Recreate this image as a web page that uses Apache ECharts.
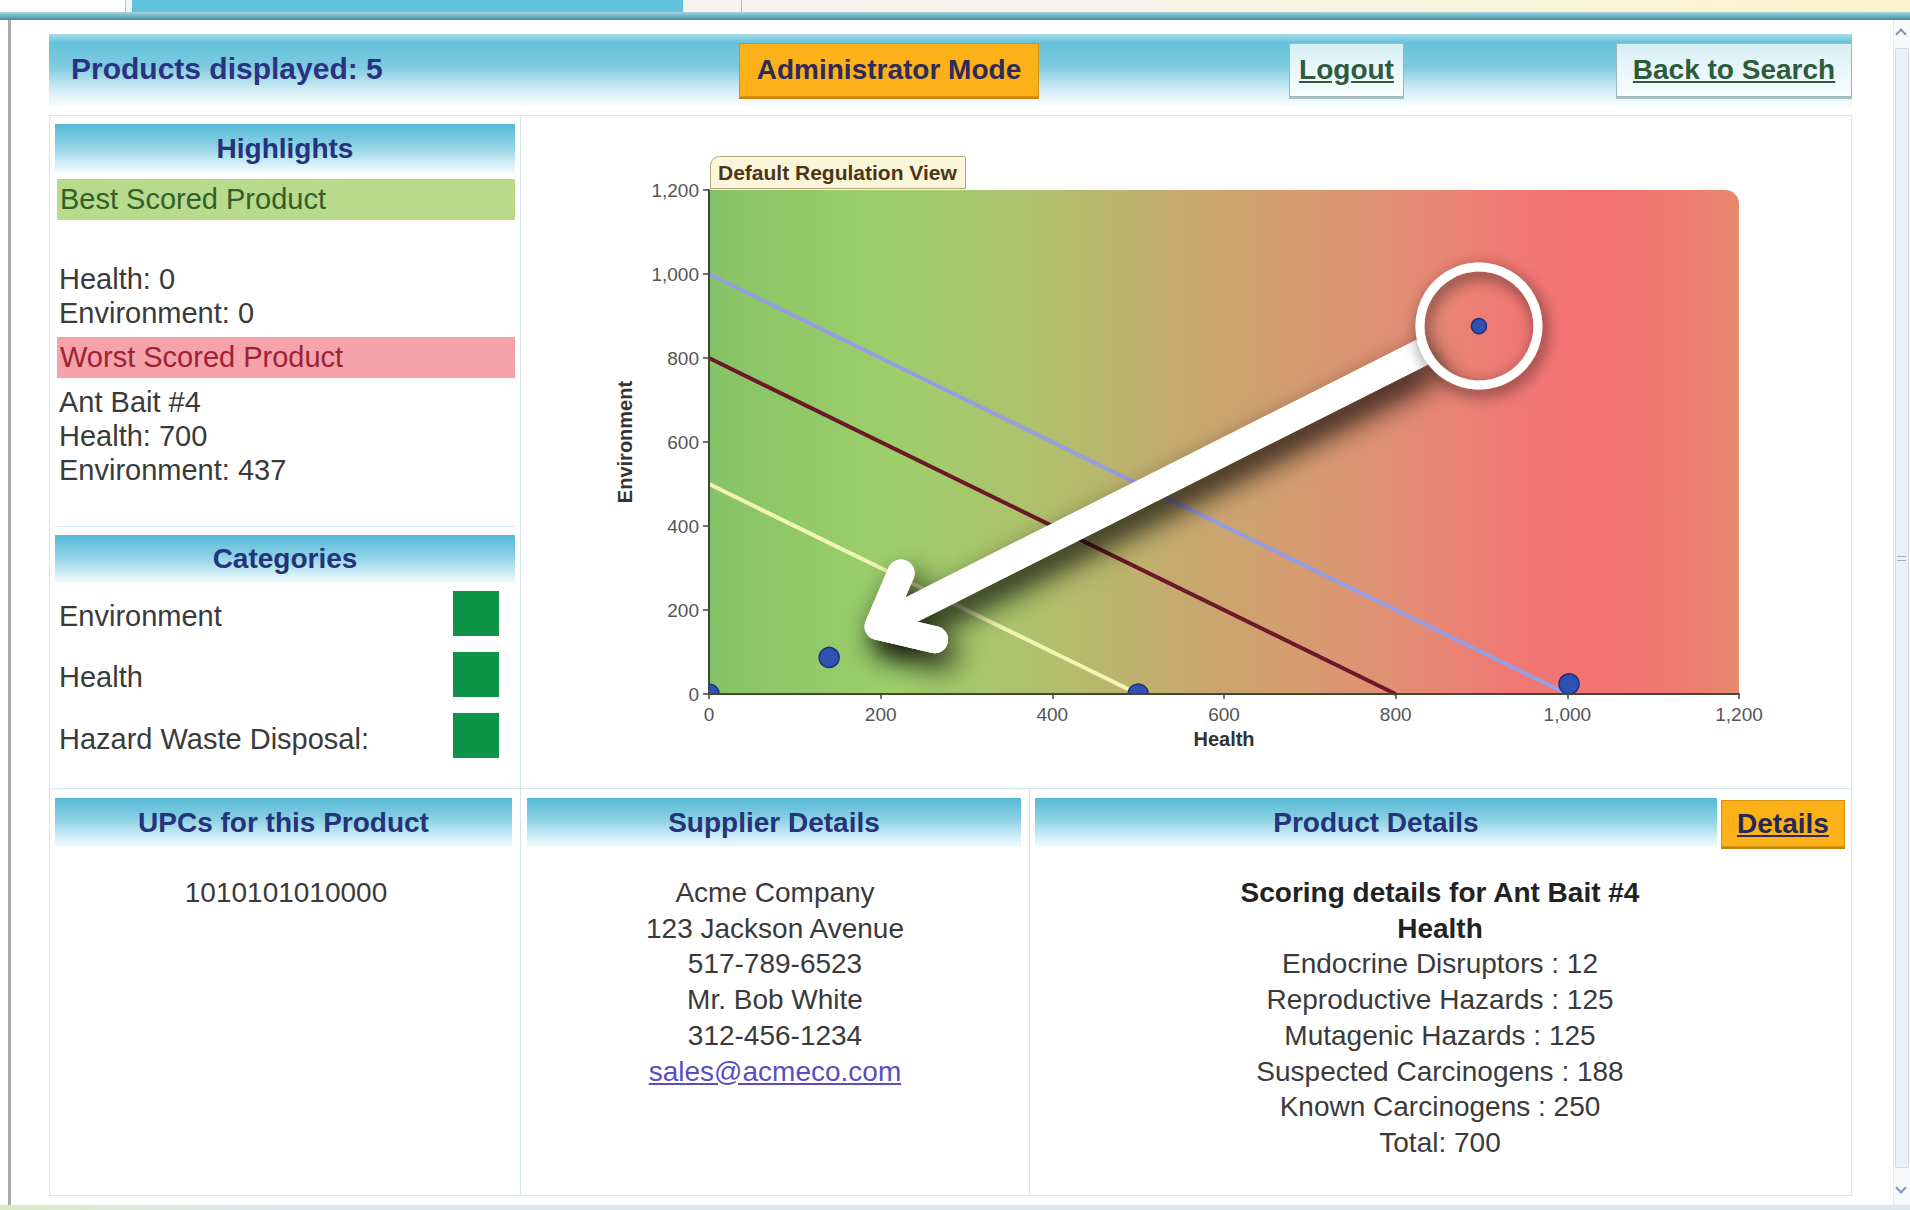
<!DOCTYPE html>
<html>
<head>
<meta charset="utf-8">
<title>Products</title>
<script src="https://cdn.jsdelivr.net/npm/echarts@6/dist/echarts.min.js"></script>
<style>
  html, body { margin: 0; padding: 0; }
  body {
    width: 1910px; height: 1210px; position: relative; overflow: hidden;
    background: #fff; font-family: 'Liberation Sans', Arial, sans-serif; color: #3a3a3a;
  }
  .abs { position: absolute; box-sizing: border-box; }
  .top-strip { left: 0; top: 0; width: 1910px; height: 13px; background: linear-gradient(90deg, #f2f4f5, #f7f5ea 60%, #fdf3cc); }
  .top-tab { left: 132px; top: 0; width: 551px; height: 13px; background: #62c4dc; }
  .top-tab0 { left: 0; top: 0; width: 126px; height: 12px; background: #fff; border-right: 1px solid #c9c9c9; }
  .top-band { left: 0; top: 12px; width: 1910px; height: 8px; background: linear-gradient(#a6d6e2, #3f8d9f); }
  .left-edge { left: 8px; top: 20px; width: 3px; height: 1185px; background: #a9a9a9; }
  .bottom-edge { left: 0; top: 1205px; width: 1910px; height: 5px; background: linear-gradient(90deg, #d9ecc9 0, #dbe7f0 16%, #dbe7f0); }
  .scroll { left: 1893px; top: 20px; width: 17px; height: 1185px; background: #f7f9fb; border-left: 1px solid #e3e9ef; }
  .scroll-thumb { left: 1895px; top: 48px; width: 14px; height: 1120px; background: #e9f0f7; border: 1px solid #cfdbe7; border-radius: 2px; }
  .chev { width: 8px; height: 8px; border-left: 2px solid #7f95b0; border-top: 2px solid #7f95b0; }

  .header { left: 49px; top: 34px; width: 1803px; height: 73px;
    background: linear-gradient(#a8dbe9 0%, #64c1da 12%, #7fcbe0 45%, #d5eef6 78%, #fbfeff 100%); }
  .hdr-text { font-weight: bold; font-size: 30px; color: #2a3380; line-height: 1; }
  .btn { display: flex; align-items: center; justify-content: center; font-weight: bold; font-size: 28px; }
  .btn-orange { background: #fbb117; border: 1px solid #d4920f; color: #2f2a5c; box-shadow: 0 2px 0 #c5860c; }
  .btn-plain { background: linear-gradient(#d6eef4, #eef8fb 60%, #f7fcfd); border: 1px solid #9db6bf; color: #2e5b3c;
    text-decoration: underline; box-shadow: 0 2px 0 #a9bfc6; }

  .frame { left: 49px; top: 115px; width: 1803px; height: 1081px; border: 1px solid #d2e5f0; }
  .vline { width: 1px; background: #d2e5f0; }
  .hline { height: 1px; background: #d2e5f0; }

  .ph { display: flex; align-items: center; justify-content: center; font-weight: bold; font-size: 28px; color: #24337a;
    background: linear-gradient(#56b9d6 0%, #86cfe3 40%, #d9f1f8 85%, #f2fbfd 100%); }
  .bar { display: flex; align-items: center; font-size: 29px; padding-left: 3px; }
  .txt { font-size: 29px; line-height: 34px; white-space: nowrap; }
  .sq { width: 46px; height: 45px; background: #0e9446; }
  .center-block { text-align: center; font-size: 28px; line-height: 35.7px; white-space: nowrap; }
  a.mail { color: #5a4dc0; text-decoration: underline; }

  #chart { left: 520px; top: 115px; width: 1332px; height: 672px; }
</style>
</head>
<body>
<div class="abs top-strip"></div>
<div class="abs top-tab0"></div>
<div class="abs top-tab"></div>
<div class="abs" style="left:741px;top:0;width:1px;height:12px;background:#b9b9b9"></div>
<div class="abs top-band"></div>
<div class="abs left-edge"></div>
<div class="abs bottom-edge"></div>
<div class="abs scroll"></div>
<div class="abs scroll-thumb"></div>
<div class="abs chev" style="left:1897px;top:30px;transform:rotate(45deg)"></div>
<div class="abs chev" style="left:1897px;top:1184px;transform:rotate(225deg)"></div>
<div class="abs" style="left:1897px;top:556px;width:9px;height:1px;background:#9fb3c8"></div>
<div class="abs" style="left:1897px;top:560px;width:9px;height:1px;background:#9fb3c8"></div>

<!-- top header -->
<div class="abs header"></div>
<div class="abs hdr-text" style="left:71px;top:54px">Products displayed: 5</div>
<div class="abs btn btn-orange" style="left:739px;top:43px;width:300px;height:54px">Administrator Mode</div>
<div class="abs btn btn-plain" style="left:1289px;top:43px;width:115px;height:54px">Logout</div>
<div class="abs btn btn-plain" style="left:1616px;top:43px;width:236px;height:54px">Back to Search</div>

<!-- frame and dividers -->
<div class="abs frame"></div>
<div class="abs vline" style="left:520px;top:115px;height:1081px"></div>
<div class="abs vline" style="left:1029px;top:788px;height:408px"></div>
<div class="abs hline" style="left:49px;top:788px;width:1803px"></div>

<!-- highlights -->
<div class="abs ph" style="left:55px;top:124px;width:460px;height:49px">Highlights</div>
<div class="abs bar" style="left:57px;top:179px;width:458px;height:41px;background:#b7da8b;color:#335f2d">Best Scored Product</div>
<div class="abs txt" style="left:59px;top:262px">Health: 0<br>Environment: 0</div>
<div class="abs bar" style="left:57px;top:337px;width:458px;height:41px;background:#f5a2aa;color:#9c2333">Worst Scored Product</div>
<div class="abs txt" style="left:59px;top:385px">Ant Bait #4<br>Health: 700<br>Environment: 437</div>
<div class="abs hline" style="left:55px;top:526px;width:460px"></div>

<!-- categories -->
<div class="abs ph" style="left:55px;top:535px;width:460px;height:48px">Categories</div>
<div class="abs txt" style="left:59px;top:599px">Environment</div>
<div class="abs sq" style="left:453px;top:591px"></div>
<div class="abs txt" style="left:59px;top:660px">Health</div>
<div class="abs sq" style="left:453px;top:652px"></div>
<div class="abs txt" style="left:59px;top:722px">Hazard Waste Disposal:</div>
<div class="abs sq" style="left:453px;top:713px"></div>

<!-- chart -->
<div class="abs" id="chart"></div>

<!-- bottom panels -->
<div class="abs ph" style="left:55px;top:798px;width:457px;height:49px">UPCs for this Product</div>
<div class="abs center-block" style="left:55px;top:875px;width:462px">1010101010000</div>

<div class="abs ph" style="left:527px;top:798px;width:494px;height:49px">Supplier Details</div>
<div class="abs center-block" style="left:527px;top:875px;width:496px">
  Acme Company<br>123 Jackson Avenue<br>517-789-6523<br>Mr. Bob White<br>312-456-1234<br><a class="mail">sales@acmeco.com</a>
</div>

<div class="abs ph" style="left:1035px;top:798px;width:682px;height:49px">Product Details</div>
<div class="abs btn btn-orange" style="left:1721px;top:800px;width:124px;height:47px;color:#272755;text-decoration:underline">Details</div>
<div class="abs center-block" style="left:1035px;top:875px;width:810px">
  <b style="color:#222">Scoring details for Ant Bait #4</b><br>
  <b style="color:#222">Health</b><br>
  Endocrine Disruptors : 12<br>
  Reproductive Hazards : 125<br>
  Mutagenic Hazards : 125<br>
  Suspected Carcinogens : 188<br>
  Known Carcinogens : 250<br>
  Total: 700
</div>

<script>
// products plotted (health score, environment score)
const healthScores = [0, 140, 500, 1002, 897]
const environmentScores = [0, 87, 0, 24, 876]
const worstIndex = 4
// regulation limits: line from (0, level) to (level, 0)
const regulationLevels = [500, 800, 1000]
const regulationColors = ['#f3f6b2', '#6b1828', '#969ee2']
// arrow from the highlighted product down to the safe zone [x1, y1, x2, y2]
const arrowFromTo = [834, 817, 197, 161]

const chart = echarts.init(document.getElementById('chart'), null, { renderer: 'svg' })

const points = healthScores.map((h, i) => [h, environmentScores[i]])

const option = {
  animation: false,
  title: {
    text: 'Default Regulation View',
    left: 190,
    top: 41,
    padding: [6, 9, 6, 8],
    backgroundColor: '#fbf6d9',
    borderColor: '#b6a47c',
    borderWidth: 1,
    borderRadius: [9, 2, 0, 0],
    textStyle: { fontSize: 21, fontWeight: 'bold', color: '#4b3519', fontFamily: 'Liberation Sans' }
  },
  grid: { left: 189, top: 75, width: 1030, height: 504 },
  xAxis: {
    type: 'value', min: 0, max: 1200, interval: 200, z: 10,
    name: 'Health', nameLocation: 'middle', nameGap: 34,
    nameTextStyle: { fontSize: 20, fontWeight: 'bold', color: '#333', fontFamily: 'Liberation Sans' },
    axisLine: { show: true, lineStyle: { color: '#404838', width: 2 } },
    axisTick: { show: true, length: 5, lineStyle: { color: '#404838', width: 1.5 } },
    axisLabel: { fontSize: 19, color: '#555', margin: 11, fontFamily: 'Liberation Sans' },
    splitLine: { show: false }
  },
  yAxis: {
    type: 'value', min: 0, max: 1200, interval: 200, z: 10,
    name: 'Environment', nameLocation: 'middle', nameGap: 74,
    nameTextStyle: { fontSize: 20, fontWeight: 'bold', color: '#333', fontFamily: 'Liberation Sans' },
    axisLine: { show: true, lineStyle: { color: '#404838', width: 2 } },
    axisTick: { show: true, length: 6, lineStyle: { color: '#404838', width: 1.5 } },
    axisLabel: { fontSize: 19, color: '#555', margin: 10, fontFamily: 'Liberation Sans' },
    splitLine: { show: false }
  },
  series: [
    {
      // gradient background of the plot area
      type: 'custom', z: 0, silent: true,
      data: [[0, 0]],
      renderItem(params, api) {
        const cs = params.coordSys
        return {
          type: 'rect',
          shape: { x: cs.x, y: cs.y, width: cs.width, height: cs.height, r: [0, 14, 0, 0] },
          style: {
            fill: new echarts.graphic.LinearGradient(0, 0, 1, 0, [
              { offset: 0, color: '#86c366' },
              { offset: 0.18, color: '#9dcf6b' },
              { offset: 0.34, color: '#b2be6b' },
              { offset: 0.46, color: '#c6a96e' },
              { offset: 0.58, color: '#d69b71' },
              { offset: 0.68, color: '#e38c73' },
              { offset: 0.78, color: '#f07874' },
              { offset: 0.86, color: '#f37272' },
              { offset: 0.94, color: '#ee7a70' },
              { offset: 1, color: '#e6896c' }
            ])
          }
        }
      }
    },
    ...regulationLevels.map((lvl, i) => ({
      type: 'line', z: 3, silent: true,
      symbol: 'none',
      data: [[0, lvl], [lvl, 0]],
      lineStyle: { color: regulationColors[i], width: 4 }
    })),
    {
      // products
      type: 'custom', z: 4, clip: true,
      data: points,
      encode: { x: 0, y: 1 },
      renderItem(params, api) {
        const p = api.coord([api.value(0), api.value(1)])
        return {
          type: 'circle',
          shape: { cx: p[0], cy: p[1], r: params.dataIndex === worstIndex ? 7.5 : 10 },
          style: { fill: '#2f51b2', stroke: '#1c2f7c', lineWidth: 1.5 }
        }
      }
    },
    {
      // arrow
      type: 'custom', z: 5, silent: true,
      data: [arrowFromTo],
      renderItem(params, api) {
        const a = api.coord([api.value(0), api.value(1)])
        const b = api.coord([api.value(2), api.value(3)])
        const ang = Math.atan2(a[1] - b[1], a[0] - b[0])
        const spread = 40 * Math.PI / 180
        const len = 58
        const w1 = [b[0] + len * Math.cos(ang + spread), b[1] + len * Math.sin(ang + spread)]
        const w2 = [b[0] + len * Math.cos(ang - spread), b[1] + len * Math.sin(ang - spread)]
        const head = { stroke: '#fff', fill: null, lineWidth: 27, lineCap: 'round', lineJoin: 'round' }
        const shaft = Object.assign({}, head, { lineCap: 'butt' })
        const sh = { shadowBlur: 30, shadowColor: 'rgba(0,0,0,0.9)', shadowOffsetX: 8, shadowOffsetY: 14 }
        return {
          type: 'group',
          children: [
            { type: 'polyline', shape: { points: [a, b] }, style: Object.assign({}, shaft, sh) },
            { type: 'polyline', shape: { points: [w1, b, w2] }, style: Object.assign({}, head, sh) },
            { type: 'polyline', shape: { points: [a, b] }, style: shaft },
            { type: 'polyline', shape: { points: [w1, b, w2] }, style: head }
          ]
        }
      }
    },
    {
      // ring around the worst product
      type: 'scatter', z: 6, silent: true,
      data: [points[worstIndex]],
      symbolSize: 118,
      itemStyle: {
        opacity: 1,
        color: 'rgba(0,0,0,0)', borderColor: '#fff', borderWidth: 9,
        shadowBlur: 16, shadowColor: 'rgba(0,0,0,0.6)', shadowOffsetX: 3, shadowOffsetY: 5
      }
    }
  ]
}

chart.setOption(option)
</script>
</body>
</html>
